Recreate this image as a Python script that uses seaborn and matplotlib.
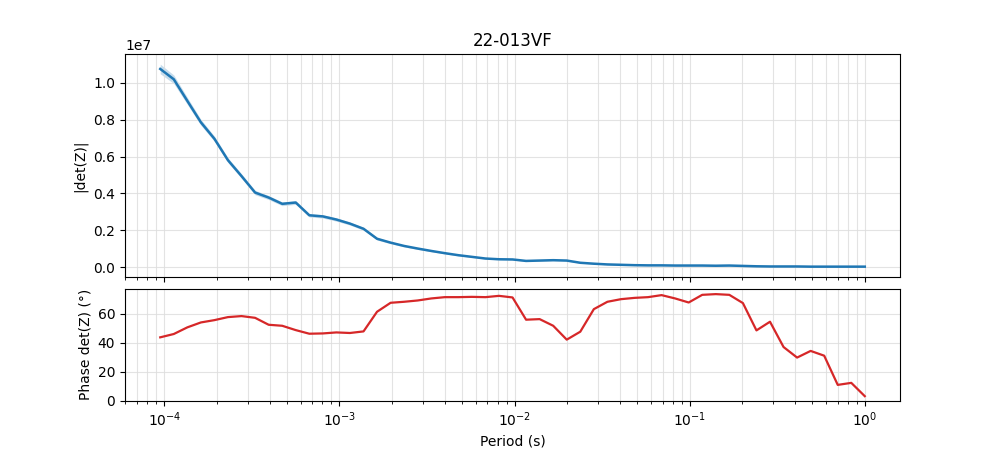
import matplotlib
matplotlib.use("Agg")
import matplotlib.pyplot as plt
import seaborn as sns
import numpy as np
import pandas as pd

title = "22-013VF"

period = [9.48e-5, 1.133e-4, 1.354e-4, 1.618e-4, 1.933e-4, 2.310e-4, 2.761e-4, 3.30e-4,
          3.944e-4, 4.713e-4, 5.632e-4, 6.73e-4, 8.04e-4, 9.61e-4, 1.148e-3, 1.373e-3,
          1.640e-3, 1.960e-3, 2.342e-3, 2.799e-3, 3.345e-3, 3.997e-3, 4.776e-3, 5.708e-3,
          6.821e-3, 8.151e-3, 9.74e-3, 1.164e-2, 1.391e-2, 1.663e-2, 1.987e-2, 2.374e-2,
          2.837e-2, 3.391e-2, 4.052e-2, 4.842e-2, 5.786e-2, 6.914e-2, 8.263e-2, 9.874e-2,
          0.118, 0.141, 0.1685, 0.2014, 0.2407, 0.2876, 0.3437, 0.4107, 0.4908, 0.5865,
          0.7009, 0.8376, 1.0]

# |det(Z)| in units of 1e7
det_mag_e7 = [1.074, 1.018, 0.901, 0.785, 0.696, 0.580, 0.494, 0.405, 0.378, 0.344,
              0.351, 0.282, 0.276, 0.259, 0.237, 0.209, 0.155, 0.134, 0.116, 0.102,
              0.089, 0.077, 0.066, 0.057, 0.048, 0.044, 0.043, 0.035, 0.037, 0.039,
              0.037, 0.025, 0.020, 0.016, 0.014, 0.012, 0.011, 0.011, 0.010, 0.010,
              0.010, 0.009, 0.010, 0.008, 0.006, 0.005, 0.005, 0.005, 0.004, 0.004,
              0.004, 0.004, 0.004]

# uncertainty half-width of |det(Z)| in units of 1e7
det_err_e7 = [0.026, 0.023, 0.019, 0.016, 0.014, 0.013, 0.012, 0.012, 0.011, 0.010,
              0.010, 0.009, 0.009, 0.009, 0.008, 0.008, 0.007, 0.006, 0.005, 0.005,
              0.004, 0.004, 0.004, 0.003, 0.003, 0.003, 0.003, 0.003, 0.003, 0.003,
              0.003, 0.002, 0.002, 0.002, 0.002, 0.002, 0.002, 0.002, 0.002, 0.002,
              0.002, 0.002, 0.002, 0.002, 0.001, 0.001, 0.001, 0.001, 0.001, 0.001,
              0.001, 0.001, 0.001]

phase = [43.7, 46.0, 50.6, 54.0, 55.6, 57.7, 58.4, 57.2, 52.4, 51.7,
         48.7, 46.2, 46.4, 47.1, 46.7, 47.8, 61.4, 67.6, 68.3, 69.2,
         70.6, 71.5, 71.5, 71.7, 71.5, 72.4, 71.3, 55.9, 56.3, 51.7,
         42.1, 47.6, 63.2, 68.3, 70.1, 71.0, 71.5, 72.9, 70.6, 67.8,
         73.1, 73.6, 73.1, 67.4, 48.5, 54.5, 37.0, 29.7, 34.3, 31.0,
         10.8, 12.2, 3.0]

scale = 1e7
df = pd.DataFrame({
    "period": period,
    "mag": np.array(det_mag_e7) * scale,
    "err": np.array(det_err_e7) * scale,
    "phase": phase,
})

blue = "#1f77b4"
red = "#d62728"

fig, (ax1, ax2) = plt.subplots(2, 1, figsize=(10, 4.5), dpi=100, sharex=True,
                               gridspec_kw={"height_ratios": [2, 1], "hspace": 0.072})

ax1.fill_between(df["period"], df["mag"] - df["err"], df["mag"] + df["err"],
                 color=blue, alpha=0.25, linewidth=0)
sns.lineplot(data=df, x="period", y="mag", ax=ax1, color=blue, linewidth=1.8)
ax1.set_xscale("log")
ax1.set_ylabel("|det(Z)|")
ax1.set_xlabel("")
ax1.set_title(title)
ax1.grid(True, which="both", color="#dddddd", linewidth=0.8, alpha=0.8)

sns.lineplot(data=df, x="period", y="phase", ax=ax2, color=red, linewidth=1.6)
ax2.set_xscale("log")
ax2.set_ylim(bottom=0)
ax2.set_ylabel("Phase det(Z) (°)")
ax2.set_xlabel("Period (s)")
ax2.grid(True, which="both", color="#dddddd", linewidth=0.8, alpha=0.8)

fig.savefig("out.png", dpi=100)
